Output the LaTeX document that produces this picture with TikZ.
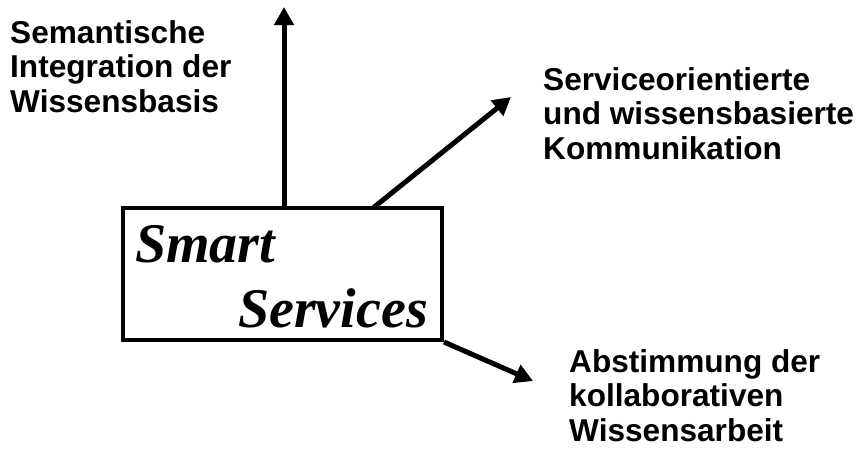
\documentclass[tikz,border=0pt]{standalone}
\usepackage{fontspec}
\setmainfont{Liberation Sans}
\newfontfamily\serifbi{Liberation Serif}
\usetikzlibrary{arrows.meta}
\begin{document}
\begin{tikzpicture}[x=1pt,y=-1pt,
  lbl/.style={anchor=base west, align=left, inner sep=0pt,
    font=\fontsize{31.6}{34.5}\selectfont\bfseries},
  big/.style={anchor=base west, inner sep=0pt,
    font=\fontsize{56}{60}\serifbi\bfseries\itshape},
  arr/.style={line width=5pt, -{Triangle[length=18pt,width=19pt]}},
  boxst/.style={draw, line width=4pt, minimum width=319pt, minimum height=132pt, inner sep=0pt}]
\useasboundingbox (0,0) rectangle (866,448);
\node[boxst] (box) at (282.5,274) {};
\node[big] (smart) at (135,262) {Smart};
\node[big] (services) at (238,327) {Services};
\coordinate (t1) at (284,7);
\coordinate (s2) at (373,208);
\coordinate (t2) at (511,97);
\coordinate (t3) at (533,381);
\draw[arr] (box.north -| t1) -- (t1);
\draw[arr] (s2) -- (t2);
\draw[arr] (box.south east) -- (t3);
\node[lbl] (l1) at (10,112) {Semantische\\Integration der\\Wissensbasis};
\node[lbl] (l2) at (543,159) {Serviceorientierte\\und wissensbasierte\\Kommunikation};
\node[lbl] (l3) at (569,441) {Abstimmung der\\kollaborativen\\Wissensarbeit};
\end{tikzpicture}
\end{document}
